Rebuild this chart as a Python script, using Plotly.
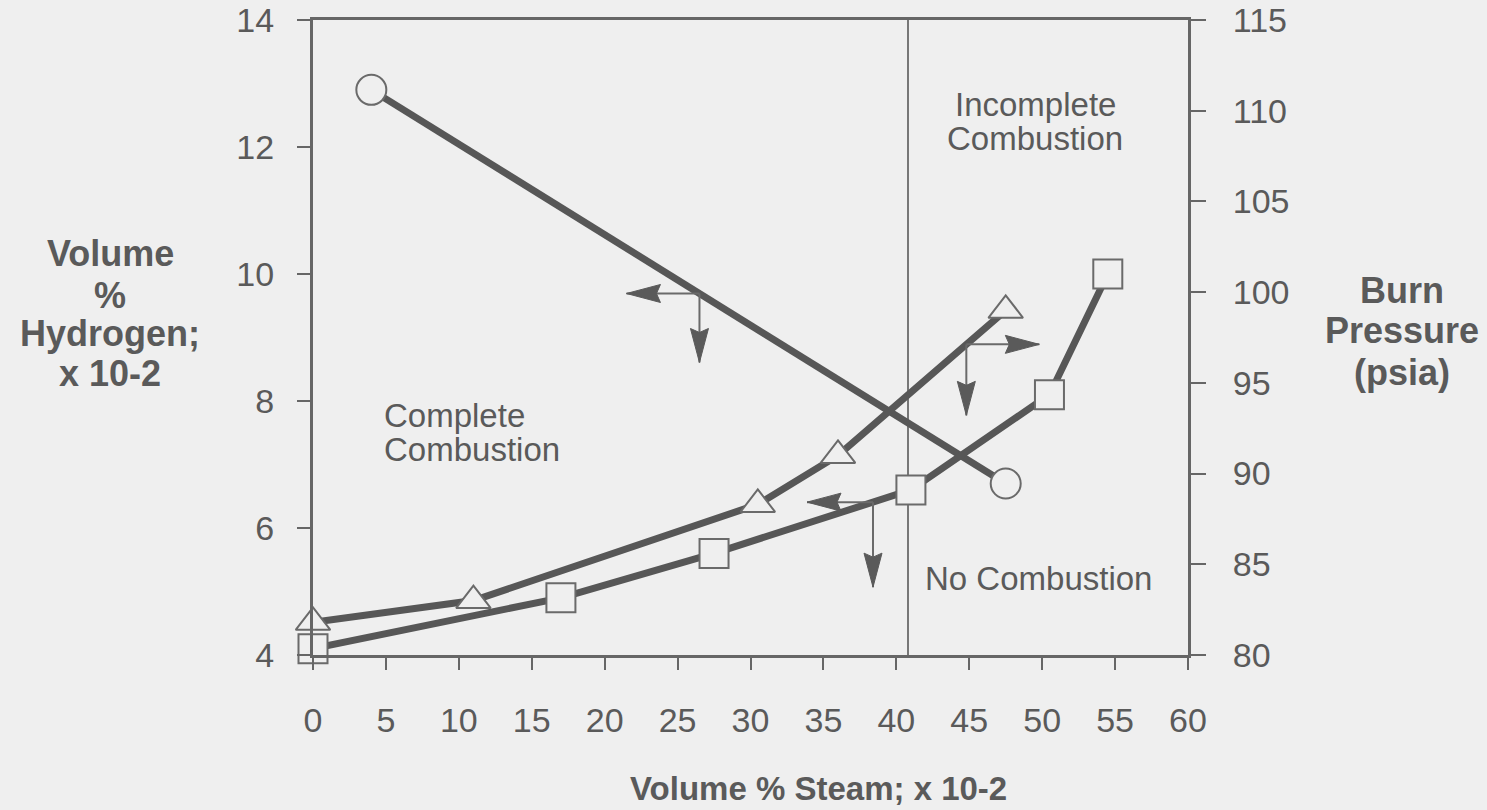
import numpy as np
import plotly.graph_objects as go

# ---------------- data ----------------
circle_steam = [4.0, 47.5]          # Volume % steam
circle_h2 = [12.9, 6.7]             # Volume % hydrogen (left axis)

tri_steam = [0.0, 11.0, 30.5, 36.0, 47.5]
tri_pressure = [81.8, 83.0, 88.3, 91.0, 99.0]   # burn pressure, psia (right axis)

sq_steam = [0.0, 17.0, 27.5, 41.0, 50.5, 54.5]
sq_h2 = [4.1, 4.9, 5.6, 6.6, 8.1, 10.0]          # left axis

x_ticks = [0, 5, 10, 15, 20, 25, 30, 35, 40, 45, 50, 55, 60]
left_ticks = [4, 6, 8, 10, 12, 14]
right_ticks = [80, 85, 90, 95, 100, 105, 110, 115]
boundary_steam = 40.8

# ---------------- style ----------------
BG = "#efefef"
INK = "#5a5a5a"
LINE = "#575757"
AXIS = "#666666"
FONT = "Liberation Sans, Arial, Helvetica, sans-serif"

W, H = 1487, 810
L, R, T, B = 313, 299, 20, 155
PW, PH = W - L - R, H - T - B


def px(x):
    return (x - L) / PW


def py(y):
    return (H - B - y) / PH


fig = go.Figure()

marker_line = dict(color="#6a6a6a", width=2)

fig.add_trace(go.Scatter(
    x=circle_steam, y=circle_h2, mode="lines+markers", yaxis="y",
    line=dict(color=LINE, width=7),
    marker=dict(symbol="circle", size=30, color=BG, line=marker_line),
    cliponaxis=False, showlegend=False))

fig.add_trace(go.Scatter(
    x=tri_steam, y=tri_pressure, mode="lines+markers", yaxis="y2",
    line=dict(color=LINE, width=7),
    marker=dict(symbol="triangle-up", size=30, color=BG, line=marker_line),
    cliponaxis=False, showlegend=False))

fig.add_trace(go.Scatter(
    x=sq_steam, y=sq_h2, mode="lines+markers", yaxis="y",
    line=dict(color=LINE, width=7),
    marker=dict(symbol="square", size=29, color=BG, line=marker_line),
    cliponaxis=False, showlegend=False))

shapes = []
shapes.append(dict(type="line", xref="x", yref="paper", x0=boundary_steam, x1=boundary_steam,
                   y0=0, y1=1, line=dict(color="#777777", width=2), layer="below"))


def arrow(xa, ya, yref, dx, dy):
    shapes.append(dict(type="line", xref="x", yref=yref, xsizemode="pixel", ysizemode="pixel",
                       xanchor=xa, yanchor=ya, x0=0, y0=0, x1=dx, y1=dy,
                       line=dict(color="#6a6a6a", width=2)))
    hl, hw = 34, 9
    if dy == 0:
        s = 1 if dx > 0 else -1
        b = dx - s * hl
        path = f"M{dx},0 L{b},{hw} L{b + s * 4},0 L{b},{-hw} Z"
    else:
        s = 1 if dy > 0 else -1
        b = dy - s * hl
        path = f"M0,{dy} L{hw},{b} L0,{b + s * 4} L{-hw},{b} Z"
    shapes.append(dict(type="path", xref="x", yref=yref, xsizemode="pixel", ysizemode="pixel",
                       xanchor=xa, yanchor=ya, path=path,
                       fillcolor="#5a5a5a", line=dict(color="#5a5a5a", width=1)))


a1x = 26.5
a1y = float(np.interp(a1x, circle_steam, circle_h2))
arrow(a1x, a1y, "y", -73, 0)
arrow(a1x, a1y, "y", 0, -69)

a2x = 44.8
a2y = float(np.interp(a2x, tri_steam, tri_pressure))
arrow(a2x, a2y, "y2", 73, 0)
arrow(a2x, a2y, "y2", 0, -71)

a3x = 38.4
a3y = float(np.interp(a3x, sq_steam, sq_h2))
arrow(a3x, a3y, "y", -66, 0)
arrow(a3x, a3y, "y", 0, -85)

annotations = []


def text(s, x, y, size, bold=False, xanchor="center"):
    annotations.append(dict(
        text=f"<b>{s}</b>" if bold else s, x=px(x), y=py(y), xref="paper", yref="paper",
        xanchor=xanchor, yanchor="middle", showarrow=False,
        font=dict(family=FONT, size=size, color=INK)))


# axis titles (multi-line, tight spacing like the original)
for s, yy in [("Volume", 254), ("%", 295), ("Hydrogen;", 333), ("x 10-2", 373)]:
    text(s, 110, yy, 36, bold=True)
for s, yy in [("Burn", 290), ("Pressure", 330), ("(psia)", 372)]:
    text(s, 1402, yy, 36, bold=True)
text("Volume % Steam; x 10-2", 818, 788, 33, bold=True)

# region labels
text("Complete", 382, 415, 33, xanchor="left")
text("Combustion", 382, 449, 33, xanchor="left")
text("Incomplete", 1035, 104, 33)
text("Combustion", 1035, 139, 33)
text("No Combustion", 1038, 578, 33)

tickfont = dict(family=FONT, size=34, color=INK)

fig.update_layout(
    width=W, height=H,
    margin=dict(l=L, r=R, t=T, b=B, autoexpand=False),
    paper_bgcolor=BG, plot_bgcolor=BG,
    shapes=shapes, annotations=annotations,
    xaxis=dict(range=[0, 60], tickvals=x_ticks, ticktext=[str(v) for v in x_ticks],
               ticks="outside", ticklen=12, tickwidth=2, tickcolor=AXIS,
               showline=True, linewidth=3, linecolor=AXIS, mirror=True, automargin=False,
               showgrid=False, zeroline=False, tickfont=tickfont, ticklabelstandoff=21),
    yaxis=dict(range=[4, 14], tickvals=left_ticks, ticktext=[str(v) for v in left_ticks],
               ticks="outside", ticklen=13, tickwidth=2, tickcolor=AXIS,
               showline=True, linewidth=3, linecolor=AXIS, automargin=False,
               showgrid=False, zeroline=False, tickfont=tickfont, ticklabelstandoff=16),
    yaxis2=dict(range=[80, 115], tickvals=right_ticks, ticktext=[str(v) for v in right_ticks],
                overlaying="y", side="right", automargin=False,
                ticks="outside", ticklen=15, tickwidth=2, tickcolor=AXIS,
                showline=True, linewidth=3, linecolor=AXIS,
                showgrid=False, zeroline=False, tickfont=tickfont, ticklabelstandoff=20),
)

fig.write_html(
    "out.html",
    config={"displayModeBar": False},
    post_script="document.body.style.margin='0px';document.body.style.background='#efefef';",
)
